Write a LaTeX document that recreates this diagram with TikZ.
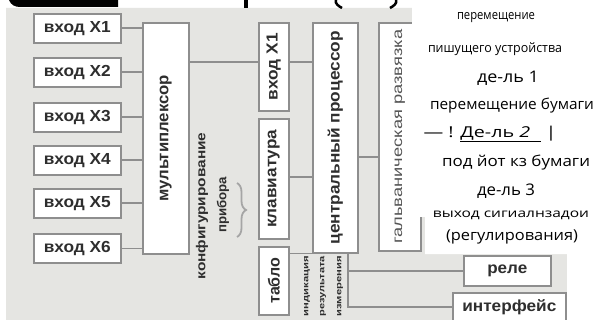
\documentclass[tikz,border=0pt]{standalone}
\usepackage{fontspec}
\usepackage{graphicx}
\setmainfont{Liberation Sans}
\newfontfamily\lblfont{Liberation Sans}
\newfontfamily\rfont{Open Sans}
\usetikzlibrary{decorations.pathreplacing}
\definecolor{bgc}{HTML}{E5E5E2}
\definecolor{bordc}{HTML}{8E8E8E}
\definecolor{txtc}{HTML}{2E2E2E}
\definecolor{galc}{HTML}{555555}
\newcommand\fitw[2]{\resizebox{#1}{\height}{#2}}
\newcommand\vfit[2]{\rotatebox{90}{\fitw{#1}{#2}}}
\begin{document}
\begin{tikzpicture}[x=1pt,y=-1pt,
  box/.style={draw=bordc, line width=1.6pt, fill=white, inner sep=0pt, anchor=north west,
     text=txtc, font=\lblfont\bfseries\fontsize{16}{16}\selectfont},
  conn/.style={draw=bordc, line width=1.6pt},
  tiny/.style={anchor=north, text=txtc, font=\lblfont\bfseries\fontsize{8}{8}\selectfont, inner sep=0pt},
  rtext/.style={font=\rfont\fontsize{14}{14}\selectfont, text=black, inner sep=0pt}]
\useasboundingbox (0,0) rectangle (599,320);
\clip (0,0) rectangle (599,320);
\fill[white] (0,0) rectangle (599,320);
\fill[bgc] (6,8) -- (412,8) -- (412,217) -- (425,217) -- (425,254) -- (567,254) -- (567,320) -- (6,320) -- cycle;
% banner and title fragments
\fill[black] (9,0) -- (118,0) -- (118,7) -- (20,7) to[out=180,in=-70] (9,0) -- cycle;
\fill[black] (244,0) rectangle (248,8);
\draw[black, line width=2.5pt] (336,0) to[out=-110,in=150] (342,8);
\draw[black, line width=2.5pt] (396,0) to[out=-70,in=30] (390,8);

% input boxes
\node[box, minimum width=87pt, minimum height=29pt] (in1) at (33,13) {\fitw{67pt}{вход X1}};
\node[box, minimum width=87pt, minimum height=29pt] (in2) at (33,57) {\fitw{67pt}{вход X2}};
\node[box, minimum width=87pt, minimum height=29pt] (in3) at (33,102) {\fitw{67pt}{вход X3}};
\node[box, minimum width=87pt, minimum height=29pt] (in4) at (33,145) {\fitw{67pt}{вход X4}};
\node[box, minimum width=87pt, minimum height=29pt] (in5) at (33,188) {\fitw{67pt}{вход X5}};
\node[box, minimum width=87pt, minimum height=29pt] (in6) at (33,233) {\fitw{67pt}{вход X6}};

\node[box, minimum width=46pt, minimum height=231pt] (mux) at (142,22) {\vfit{127pt}{мультиплексор}};
\node[box, minimum width=30pt, minimum height=88pt] (vx1) at (258,22) {\vfit{67pt}{вход X1}};
\node[box, minimum width=30pt, minimum height=120pt] (kl) at (258,118) {\vfit{98pt}{клавиатура}};
\node[box, minimum width=30pt, minimum height=68pt] (tab) at (258,246) {\vfit{46pt}{табло}};
\node[box, minimum width=45pt, minimum height=230pt] (cpu) at (312,22) {\vfit{213pt}{центральный процессор}};
\node[box, minimum width=42pt, minimum height=228pt, text=galc, font=\lblfont\fontsize{14}{14}\selectfont] (gal) at (378,22) {\vfit{214pt}{гальваническая развязка}};
\node[box, minimum width=87pt, minimum height=30pt] (rele) at (463,255) {\fitw{40pt}{реле}};
\node[box, minimum width=113pt, minimum height=28pt] (intf) at (452,292) {\fitw{94pt}{интерфейс}};

% connectors
\foreach \i in {1,...,6} {\draw[conn] (in\i.east) -- (in\i.east -| mux.west);}
\coordinate (l1) at (0,62);
\coordinate (l2) at (0,177);
\coordinate (l4) at (0,157);
\coordinate (jt) at (348,252);
\draw[conn] (mux.east |- l1) -- (vx1.west |- l1);
\draw[conn] (vx1.east |- l1) -- (cpu.west |- l1);
\draw[conn] (kl.east |- l2) -- (cpu.west |- l2);
\draw[conn] (tab.east |- cpu.south west) -- (cpu.south west);
\draw[conn] (cpu.east |- l4) -- (gal.west |- l4);
\draw[conn] (cpu.south -| jt) -- (jt |- intf.west) -- (intf.west);
\draw[conn] (jt |- rele.west) -- (rele.west);

% configuration label with brace
\node[text=txtc, font=\lblfont\bfseries\fontsize{13}{13}\selectfont, inner sep=0pt] (cfg1) at (202,206) {\vfit{147pt}{конфигурирование}};
\node[text=txtc, font=\lblfont\bfseries\fontsize{13}{13}\selectfont, inner sep=0pt] (cfg2) at (223,205) {\vfit{56pt}{прибора}};
\draw[draw=bordc!80, line width=1.8pt, decorate, decoration={brace, amplitude=9pt}] (237,183) -- (237,237);

% tiny labels under the processor
\node[tiny] (m1) at (307,256) {\vfit{60pt}{индикация}};
\node[tiny] (m2) at (323,256) {\vfit{60pt}{результата}};
\node[tiny] (m3) at (340,256) {\vfit{60pt}{измерения}};

% white overlay on the right
\fill[white] (412,0) -- (599,0) -- (599,254) -- (425,254) -- (425,217) -- (412,217) -- cycle;
\fill[white] (567,254) rectangle (599,320);

% right texts
\node[rtext, font=\rfont\fontsize{13}{13}\selectfont] (t1) at (496,18) {\fitw{78pt}{перемещение}};
\node[rtext, font=\rfont\fontsize{13}{13}\selectfont] (t2) at (495,49) {\fitw{134pt}{пишущего устройства}};
\node[rtext, font=\rfont\fontsize{16}{16}\selectfont] (t3) at (508,78) {\fitw{62pt}{де-ль 1}};
\node[rtext, font=\rfont\fontsize{15}{15}\selectfont] (t4) at (512,106) {\fitw{164pt}{перемещение бумаги}};
\node[rtext, font=\rfont\fontsize{15}{15}\selectfont] (t5) at (490,134) {\fitw{133pt}{— ! \underline{Де-ль \textit{2}\ \ }\ |}};
\node[rtext, font=\rfont\fontsize{15}{15}\selectfont] (t6) at (516,163) {\fitw{148pt}{под йот кз бумаги}};
\node[rtext, font=\rfont\fontsize{16}{16}\selectfont] (t7) at (506,191) {\fitw{58pt}{де-ль 3}};
\node[rtext, font=\rfont\fontsize{12}{12}\selectfont] (t8) at (511,215) {\fitw{156pt}{выход сигиалнзадои}};
\node[rtext, font=\rfont\fontsize{15}{15}\selectfont] (t9) at (512,237) {\fitw{132pt}{(регулирования)}};
\end{tikzpicture}
\end{document}
